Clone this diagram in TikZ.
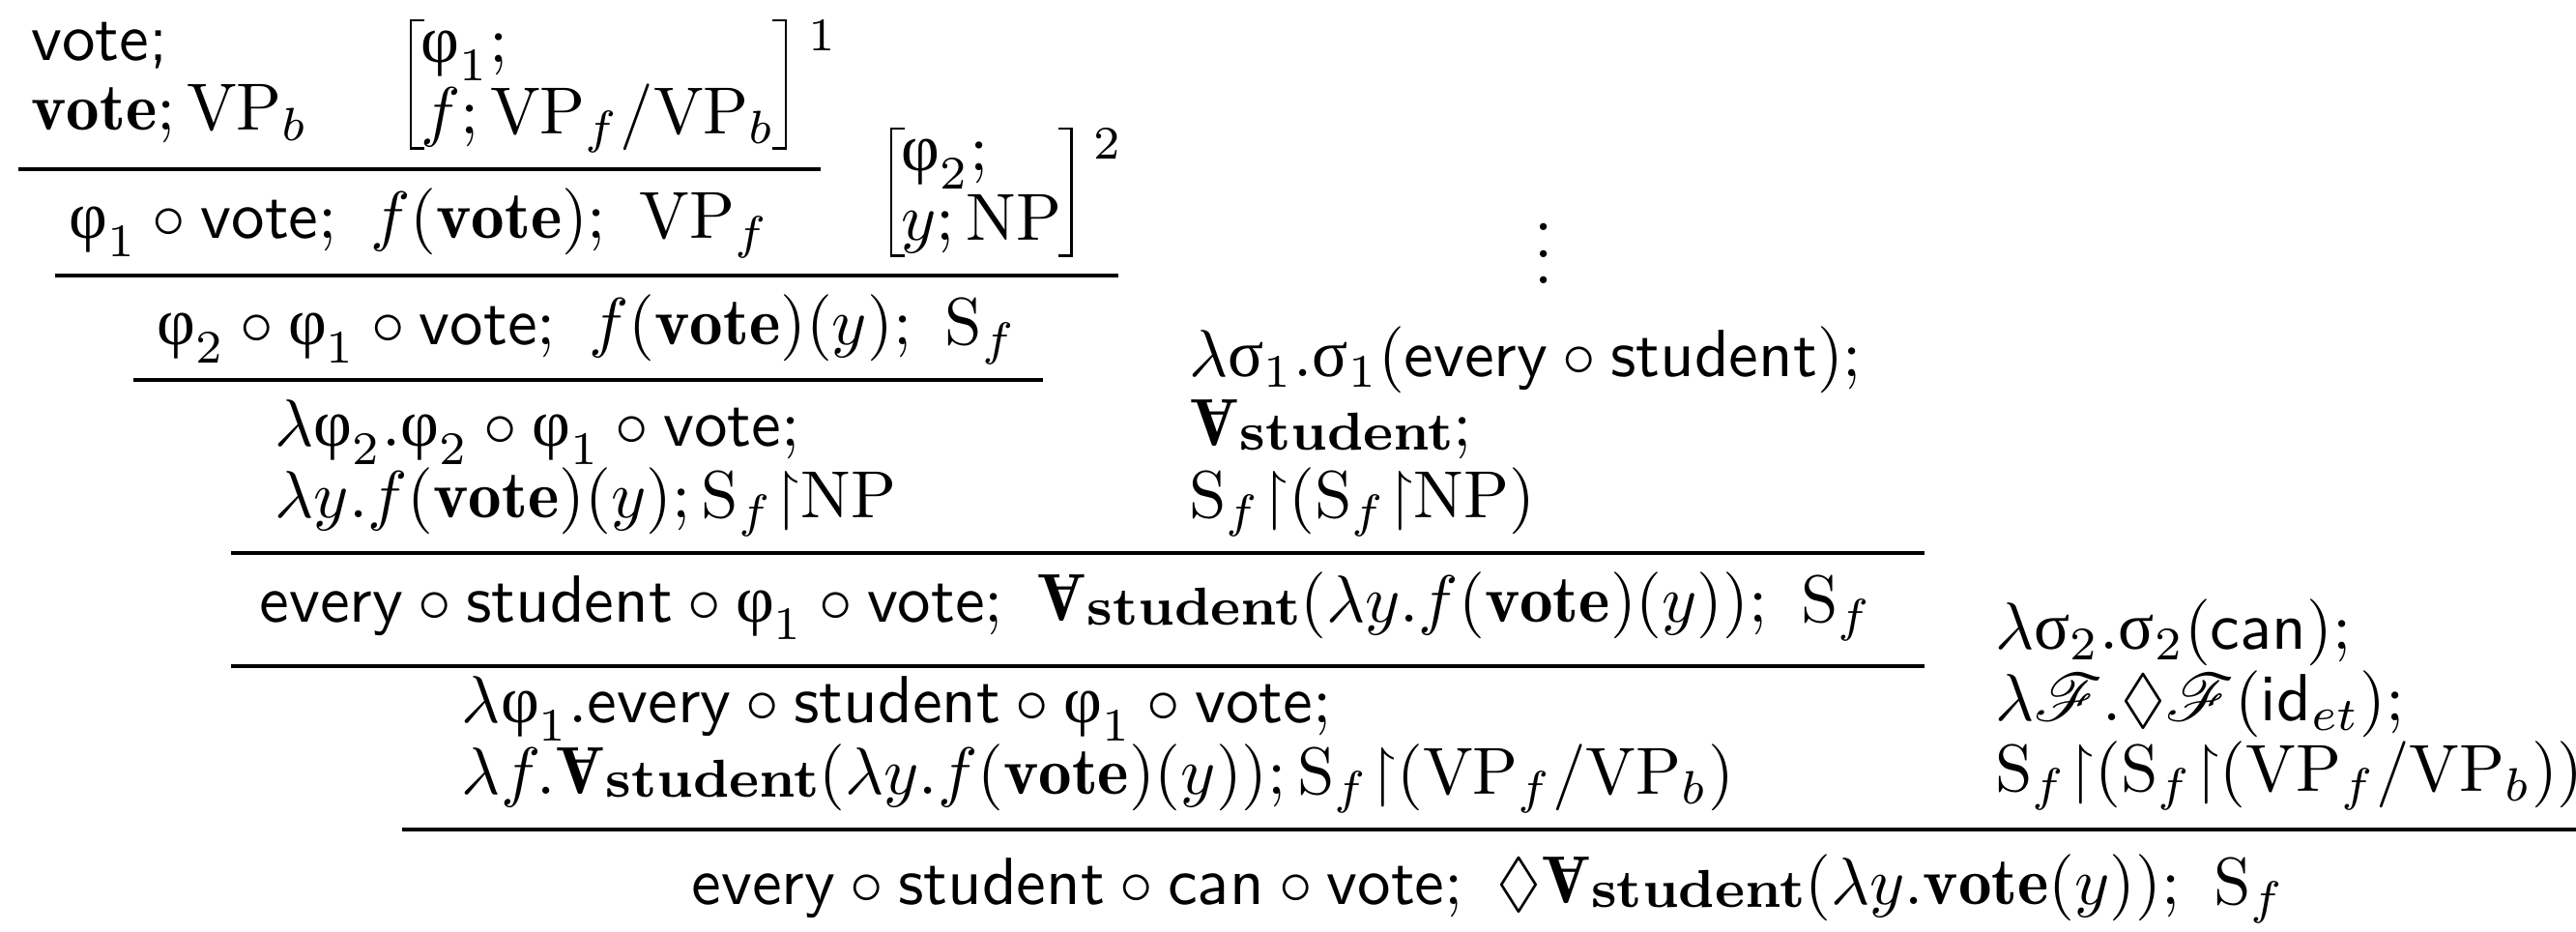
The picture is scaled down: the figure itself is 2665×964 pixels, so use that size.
\documentclass[tikz,border=0pt]{standalone}
\usepackage{amsmath,amssymb,mathrsfs,graphicx}
\usepackage{fontspec}
\newfontfamily\grkfont{Liberation Serif}
\usetikzlibrary{positioning}
\newcommand{\pros}[1]{\textsf{#1}}
\newcommand{\cat}[1]{\mathrm{#1}}
\newcommand{\vph}{\text{\grkfont φ}}
\newcommand{\sig}{\text{\grkfont σ}}
\newcommand{\Vstud}{\mathord{\rotatebox[origin=c]{180}{$\mathbf{A}$}\raisebox{-0.5pt}{\footnotesize\bfseries student}}}
\newcommand{\seqlines}[1]{\begin{tabular}[t]{@{}l@{}}#1\end{tabular}}
\renewcommand{\arraystretch}{0.87}

\begin{document}
\begin{tikzpicture}[
  x=0.145pt, y=-0.145pt,
  prem/.style={inner sep=0pt, anchor=base west},
  concl/.style={inner sep=0pt, anchor=base},
  hypbox/.style={inner xsep=1.3pt, inner ysep=-1.1pt, anchor=base west},
  brk/.style={line width=0.35pt},
  idx/.style={inner sep=0pt, anchor=north west, font=\scriptsize},
  infline/.style={line width=0.45pt}
]
\useasboundingbox (0,0) rectangle (2665,964);
% hypotheses and lexical entries
\node[prem] (vote) at (31,63) {\seqlines{\pros{vote;}\\ $\mathbf{vote}; \cat{VP}_b$}};
\node[hypbox] (h1) at (425,65) {\seqlines{$\vph_1;$\\ $f; \cat{VP}_f/\cat{VP}_b$}};
\draw[brk] ([xshift=2pt]h1.north west) -- (h1.north west) -- (h1.south west) -- ([xshift=2pt]h1.south west);
\draw[brk] ([xshift=-2pt]h1.north east) -- (h1.north east) -- (h1.south east) -- ([xshift=-2pt]h1.south east);
\node[idx] (n1) at ([xshift=3.2pt,yshift=0.3pt]h1.north east) {1};
\draw[infline] (19,175) -- (849,175);
\node[concl] (vpf) at (434,247) {$\vph_1\circ\pros{vote};\ f(\mathbf{vote});\ \cat{VP}_f$};
\node[hypbox] (h2) at (922,177) {\seqlines{$\vph_2;$\\ $y; \cat{NP}$}};
\draw[brk] ([xshift=2pt]h2.north west) -- (h2.north west) -- (h2.south west) -- ([xshift=2pt]h2.south west);
\draw[brk] ([xshift=-2pt]h2.north east) -- (h2.north east) -- (h2.south east) -- ([xshift=-2pt]h2.south east);
\node[idx] (n2) at ([xshift=3.2pt,yshift=0.3pt]h2.north east) {2};
\draw[infline] (57,285) -- (1157,285);
\node[concl] (sf) at (607,357) {$\vph_2\circ\vph_1\circ\pros{vote};\ f(\mathbf{vote})(y);\ \cat{S}_f$};
\draw[infline] (138,393) -- (1079,393);
\node[concl] (absy) at (606,462) {\seqlines{$\lambda\vph_2.\vph_2\circ\vph_1\circ\pros{vote};$\\
  $\lambda y.f(\mathbf{vote})(y);\cat{S}_f{\upharpoonright}\cat{NP}$}};
% quantifier
\node[inner sep=0pt, anchor=south] (dots) at (1597,295) {$\vdots$};
\node[prem] (every) at (1229,390) {\seqlines{$\lambda\sig_1.\sig_1(\pros{every}\circ\pros{student});$\\
  $\Vstud;$\\ $\cat{S}_f{\upharpoonright}(\cat{S}_f{\upharpoonright}\cat{NP})$}};
\draw[infline] (239,572) -- (1991,572);
\node[concl] (qs) at (1103,643) {$\pros{every}\circ\pros{student}\circ\vph_1\circ\pros{vote};\ \Vstud(\lambda y.f(\mathbf{vote})(y));\ \cat{S}_f$};
\draw[infline] (239,689) -- (1991,689);
\node[concl] (absf) at (1136,748) {\seqlines{$\lambda\vph_1.\pros{every}\circ\pros{student}\circ\vph_1\circ\pros{vote};$\\
  $\lambda f.\Vstud(\lambda y.f(\mathbf{vote})(y));\cat{S}_f{\upharpoonright}(\cat{VP}_f/\cat{VP}_b)$}};
% modal
\node[prem] (can) at (2063,672) {\seqlines{$\lambda\sig_2.\sig_2(\pros{can});$\\
  $\lambda\mathscr{F}.\Diamond\mathscr{F}(\pros{id}_{et});$\\
  $\cat{S}_f{\upharpoonright}(\cat{S}_f{\upharpoonright}(\cat{VP}_f/\cat{VP}_b))$}};
\draw[infline] (416,858) -- (2665,858);
\node[concl] (final) at (1540,935) {$\pros{every}\circ\pros{student}\circ\pros{can}\circ\pros{vote};\ \Diamond\Vstud(\lambda y.\mathbf{vote}(y));\ \cat{S}_f$};
\end{tikzpicture}
\end{document}
